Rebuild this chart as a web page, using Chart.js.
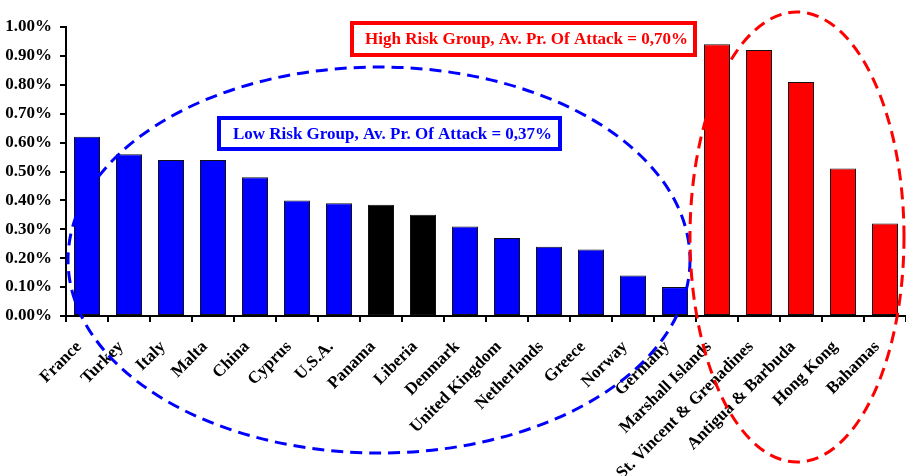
<!DOCTYPE html>
<html>
<head>
<meta charset="utf-8">
<script src="https://cdn.jsdelivr.net/npm/chart.js@4.4.0/dist/chart.umd.min.js"></script>
<style>
  html, body { margin: 0; padding: 0; background: #fff; }
  canvas { display: block; }
</style>
</head>
<body>
<canvas id="grafico" width="906" height="476"></canvas>
<script>
// flag states, ordered as in the picture
const paises = [
  'France', 'Turkey', 'Italy', 'Malta', 'China', 'Cyprus', 'U.S.A.', 'Panama', 'Liberia',
  'Denmark', 'United Kingdom', 'Netherlands', 'Greece', 'Norway', 'Germany',
  'Marshall Islands', 'St. Vincent & Grenadines', 'Antigua & Barbuda', 'Hong Kong', 'Bahamas'
];
// probability of attack, in %
const probAtaque = [
  0.62, 0.56, 0.54, 0.54, 0.48, 0.40, 0.39, 0.385, 0.35,
  0.31, 0.27, 0.24, 0.23, 0.14, 0.10,
  0.94, 0.92, 0.81, 0.51, 0.32
];
const grupo = [
  'low', 'low', 'low', 'low', 'low', 'low', 'low', 'open', 'open',
  'low', 'low', 'low', 'low', 'low', 'low',
  'high', 'high', 'high', 'high', 'high'
];
const yTicks = [0, 0.1, 0.2, 0.3, 0.4, 0.5, 0.6, 0.7, 0.8, 0.9, 1.0];
const textoBaixo = 'Low Risk Group, Av. Pr. Of Attack = 0,37%';
const textoAlto = 'High Risk Group, Av. Pr. Of Attack = 0,70%';

const corGrupo = { low: '#0000ff', open: '#000000', high: '#ff0000' };
const fonte = '"Liberation Serif", "Times New Roman", serif';

// dashed ellipses and the two boxed notes
const anotacoes = {
  id: 'anotacoes',
  afterDraw(chart) {
    const ctx = chart.ctx;
    ctx.save();
    ctx.lineWidth = 3;
    ctx.setLineDash([12, 7]);

    ctx.strokeStyle = '#0000ff';
    ctx.beginPath();
    ctx.ellipse(379, 260, 311, 193, 0, 0, Math.PI * 2);
    ctx.stroke();

    ctx.strokeStyle = '#ff0000';
    ctx.beginPath();
    ctx.ellipse(797, 237, 107, 225, 0, 0, Math.PI * 2);
    ctx.stroke();

    ctx.setLineDash([]);
    ctx.font = 'bold 17px ' + fonte;
    ctx.textBaseline = 'middle';
    ctx.textAlign = 'center';

    function caixa(x, y, w, h, cor, texto) {
      ctx.fillStyle = '#fff';
      ctx.fillRect(x, y, w, h);
      ctx.lineWidth = 4;
      ctx.strokeStyle = cor;
      ctx.strokeRect(x + 2, y + 2, w - 4, h - 4);
      ctx.fillStyle = cor;
      ctx.fillText(texto, x + w / 2 + 3, y + h / 2 + 1);
    }
    caixa(350, 21, 347, 36, '#ff0000', textoAlto);
    caixa(217, 116, 345, 35, '#0000ff', textoBaixo);
    ctx.restore();
  }
};

const ctx = document.getElementById('grafico').getContext('2d');
const grafico = new Chart(ctx, {
  type: 'bar',
  data: {
    labels: paises,
    datasets: [{
      data: probAtaque,
      backgroundColor: grupo.map(g => corGrupo[g]),
      borderColor: '#111',
      borderWidth: 1,
      borderSkipped: false,
      barPercentage: 0.62,
      categoryPercentage: 1
    }]
  },
  options: {
    responsive: false,
    animation: false,
    layout: { padding: { top: 27, right: 0, left: 0, bottom: 0 } },
    plugins: {
      legend: { display: false },
      tooltip: { enabled: false }
    },
    scales: {
      x: {
        grid: { display: true, drawOnChartArea: false, drawTicks: true, tickLength: 6, color: '#000', lineWidth: 2 },
        border: { display: true, color: '#000', width: 2 },
        ticks: {
          autoSkip: false,
          maxRotation: 45,
          minRotation: 45,
          padding: 15,
          labelOffset: -8,
          color: '#000',
          font: { family: fonte, size: 17, weight: 'bold' }
        },
        afterFit(scale) {
          scale.height = 160;
          scale.paddingLeft = 0;
          scale.paddingRight = 0;
        }
      },
      y: {
        min: 0,
        max: 1.0,
        afterBuildTicks(scale) { scale.ticks = yTicks.map(v => ({ value: v })); },
        grid: { display: true, drawOnChartArea: false, drawTicks: true, tickLength: 6, color: '#000', lineWidth: 2 },
        border: { display: true, color: '#000', width: 2 },
        ticks: {
          padding: 8,
          color: '#000',
          font: { family: fonte, size: 17, weight: 'bold' },
          callback: v => v.toFixed(2) + '%'
        },
        afterFit(scale) { scale.width = 66; }
      }
    }
  },
  plugins: [anotacoes]
});
</script>
</body>
</html>
